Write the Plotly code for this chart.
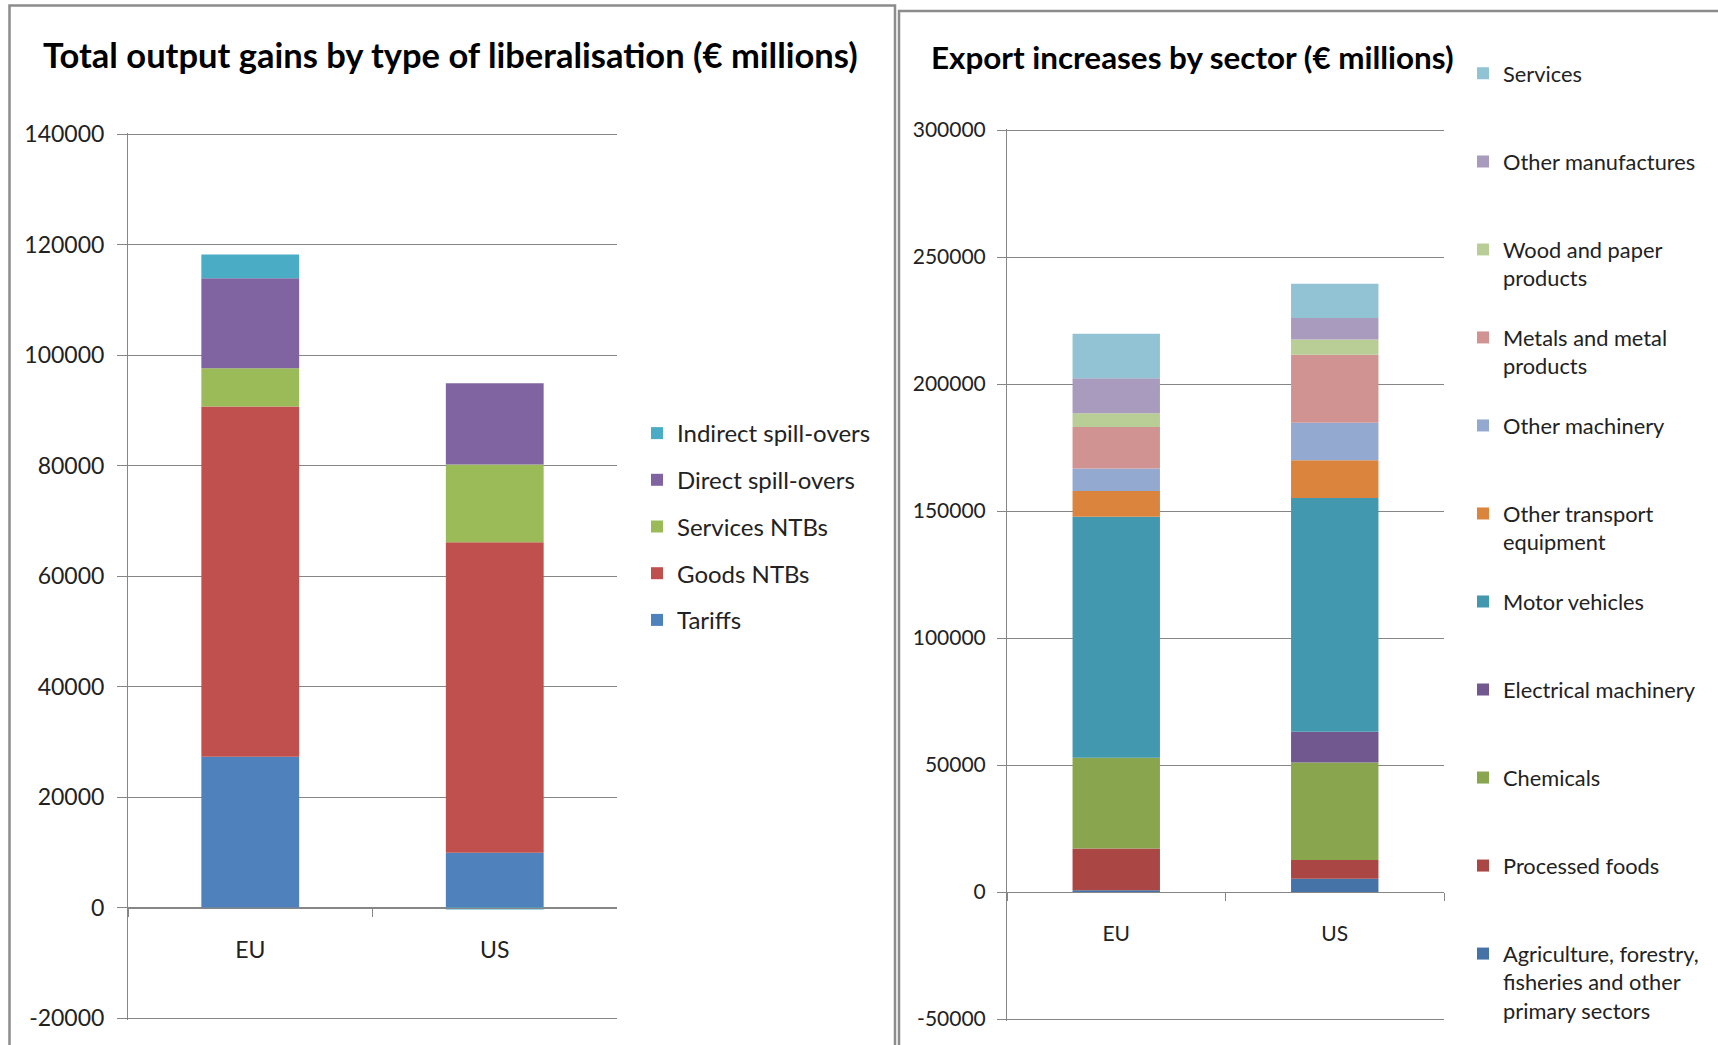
import plotly.graph_objects as go

# ---------------- data ----------------
regions = ["EU", "US"]

# Left chart: Total output gains by type of liberalisation (€ millions)
left_series = ["Tariffs", "Goods NTBs", "Services NTBs", "Direct spill-overs", "Indirect spill-overs"]
tariffs = [27300, 9900]
goods_ntbs = [63400, 56200]
services_ntbs = [6900, 14100]
direct_spill_overs = [16300, 14700]
indirect_spill_overs = [4300, -300]
left_values = [tariffs, goods_ntbs, services_ntbs, direct_spill_overs, indirect_spill_overs]
left_colors = ["#4F81BD", "#C0504D", "#9BBB59", "#8064A2", "#4BACC6"]

left_yticks = [-20000, 0, 20000, 40000, 60000, 80000, 100000, 120000, 140000]
left_yticklabels = ["-20000", "0", "20000", "40000", "60000", "80000", "100000", "120000", "140000"]

# Right chart: Export increases by sector (€ millions)
right_series = [
    "Agriculture, forestry,<br>fisheries and other<br>primary sectors",
    "Processed foods",
    "Chemicals",
    "Electrical machinery",
    "Motor vehicles",
    "Other transport<br>equipment",
    "Other machinery",
    "Metals and metal<br>products",
    "Wood and paper<br>products",
    "Other manufactures",
    "Services",
]
agriculture = [700, 5200]
processed_foods = [16400, 7400]
chemicals = [35800, 38400]
electrical_machinery = [0, 12100]
motor_vehicles = [94800, 92000]
other_transport = [10200, 14900]
other_machinery = [8800, 14700]
metals = [16400, 26800]
wood_paper = [5400, 6000]
other_manufactures = [13800, 8500]
services = [17500, 13500]
right_values = [agriculture, processed_foods, chemicals, electrical_machinery, motor_vehicles,
                other_transport, other_machinery, metals, wood_paper, other_manufactures, services]
right_colors = ["#4572A7", "#AA4643", "#89A54E", "#71588F", "#4198AF", "#DB843D",
                "#93A9CF", "#D19392", "#B9CD96", "#A99BBD", "#92C3D4"]

right_yticks = [-50000, 0, 50000, 100000, 150000, 200000, 250000, 300000]
right_yticklabels = ["-50000", "0", "50000", "100000", "150000", "200000", "250000", "300000"]

# ---------------- layout geometry ----------------
W, H = 1718, 1045
PADPX = 1.5  # extend plot area slightly so edge gridlines are drawn
L_X = [128 / W, 617 / W]
L_TOP, L_BOT = 134, 1018
R_X = [1007 / W, 1444 / W]
R_TOP, R_BOT = 130, 1019


def dom_and_range(top, bot, ticks):
    lo, hi = ticks[0], ticks[-1]
    per_px = (hi - lo) / (bot - top)
    rng = [lo - PADPX * per_px, hi + PADPX * per_px]
    dom = [1 - (bot + PADPX) / H, 1 - (top - PADPX) / H]
    return dom, rng


L_Y, L_RANGE = dom_and_range(L_TOP, L_BOT, left_yticks)
R_Y, R_RANGE = dom_and_range(R_TOP, R_BOT, right_yticks)


def zero_pos(dom, rng):
    return dom[0] + (0 - rng[0]) / (rng[1] - rng[0]) * (dom[1] - dom[0])


GRID = "#868686"
TXT = "#222222"
FONT = "Lato"

fig = go.Figure()

n = len(left_series)
for i, (name, vals, col) in enumerate(zip(left_series, left_values, left_colors)):
    fig.add_trace(go.Bar(
        x=regions, y=vals, name=name, marker=dict(color=col, line=dict(width=0)),
        xaxis="x", yaxis="y", legend="legend", legendgroup="L" + str(i),
        legendrank=(n - i) * 10,
    ))

m = len(right_series)
for i, (name, vals, col) in enumerate(zip(right_series, right_values, right_colors)):
    lines = name.count("<br>") + 1
    label = name + "<br> " * (3 - lines)
    fig.add_trace(go.Bar(
        x=regions, y=vals, name=label, marker=dict(color=col, line=dict(width=0)),
        xaxis="x2", yaxis="y2", legend="legend2", legendgroup="R" + str(i),
        legendrank=(m - i) * 10,
    ))

common_x = dict(type="category", showline=True, linecolor=GRID, linewidth=1,
                ticks="outside", tickson="boundaries", ticklen=8, tickcolor=GRID,
                showgrid=False, zeroline=False, anchor="free")
common_y = dict(showline=True, linecolor=GRID, linewidth=1, showgrid=True, gridcolor=GRID,
                gridwidth=1, ticks="outside", tickcolor=GRID, zeroline=False, tickmode="array")

fig.update_layout(
    width=W, height=H,
    margin=dict(l=0, r=0, t=0, b=0, autoexpand=False),
    paper_bgcolor="white", plot_bgcolor="white",
    barmode="relative", bargap=0.6,
    showlegend=True,
    xaxis=dict(domain=L_X, position=zero_pos(L_Y, L_RANGE), ticklabelstandoff=22,
               tickfont=dict(family=FONT, size=23, color=TXT), **common_x),
    yaxis=dict(domain=L_Y, range=L_RANGE, anchor="x", tickvals=left_yticks,
               ticktext=left_yticklabels, ticklen=10, ticklabelstandoff=8,
               tickfont=dict(family=FONT, size=23, color=TXT), **common_y),
    xaxis2=dict(domain=R_X, position=zero_pos(R_Y, R_RANGE), ticklabelstandoff=23,
                tickfont=dict(family=FONT, size=21, color=TXT), **common_x),
    yaxis2=dict(domain=R_Y, range=R_RANGE, anchor="x2", tickvals=right_yticks,
                ticktext=right_yticklabels, ticklen=9, ticklabelstandoff=7,
                tickfont=dict(family=FONT, size=21, color=TXT), **common_y),
    legend=dict(x=637 / W, y=1 - 411 / H, xanchor="left", yanchor="top",
                font=dict(family=FONT, size=24, color=TXT), bgcolor="rgba(0,0,0,0)",
                traceorder="grouped", tracegroupgap=12.5, valign="middle"),
    legend2=dict(x=1463 / W, y=1 - 52.7 / H, xanchor="left", yanchor="top",
                 font=dict(family=FONT, size=21.8, color=TXT), bgcolor="rgba(0,0,0,0)",
                 traceorder="grouped", tracegroupgap=0, valign="top"),
    annotations=[
        dict(text="<b>Total output gains by type of liberalisation (€ millions)</b>",
             x=450 / W, y=1 - 55 / H, xref="paper", yref="paper", showarrow=False,
             xanchor="center", yanchor="middle", font=dict(family=FONT, size=34.5, color="black")),
        dict(text="<b>Export increases by sector (€ millions)</b>",
             x=1192 / W, y=1 - 57 / H, xref="paper", yref="paper", showarrow=False,
             xanchor="center", yanchor="middle", font=dict(family=FONT, size=31.4, color="black")),
    ],
    shapes=[
        dict(type="rect", xref="paper", yref="paper", x0=9.5 / W, x1=895 / W,
             y0=-0.05, y1=1 - 5.5 / H, line=dict(color="#8c8c8c", width=2.5)),
        dict(type="rect", xref="paper", yref="paper", x0=899 / W, x1=1.05,
             y0=-0.05, y1=1 - 11 / H, line=dict(color="#8c8c8c", width=2.5)),
    ],
)

fig.write_html("out.html")
